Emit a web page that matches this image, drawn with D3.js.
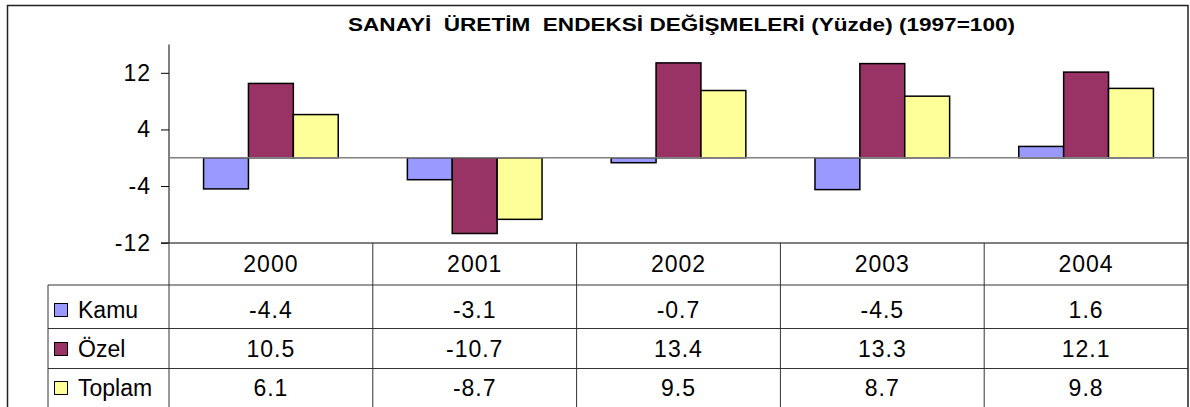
<!DOCTYPE html>
<html>
<head>
<meta charset="utf-8">
<script src="https://cdn.jsdelivr.net/npm/d3@7"></script>
<style>
  body { margin: 0; background: #fff; }
  text { font-family: "Liberation Sans", Arial, sans-serif; fill: #000; }
</style>
</head>
<body>
<div class="chart"></div>
<script>
var years = ["2000", "2001", "2002", "2003", "2004"];
var seriesNames = ["Kamu", "Özel", "Toplam"];
var kamu = [-4.4, -3.1, -0.7, -4.5, 1.6];
var ozel = [10.5, -10.7, 13.4, 13.3, 12.1];
var toplam = [6.1, -8.7, 9.5, 8.7, 9.8];
var yTicks = [-12, -4, 4, 12];
var colors = ["#9999ff", "#993366", "#ffff99"];
var title = "SANAYİ  ÜRETİM  ENDEKSİ DEĞİŞMELERİ (Yüzde) (1997=100)";

var values = [kamu, ozel, toplam];

var W = 1190, H = 407;
var plotL = 169, plotR = 1188, plotT = 44.5, plotB = 242.7;
var legendX = 48;
var rowLines = [243, 285, 328.5, 368.5];

var svg = d3.select(".chart")
  .append("svg")
  .attr("width", W)
  .attr("height", H);

// outer frame
svg.append("rect")
  .attr("x", 7.5).attr("y", 5.5)
  .attr("width", 1180.5).attr("height", 420)
  .attr("fill", "none")
  .attr("stroke", "#222")
  .attr("stroke-width", 1.5);

svg.append("text")
  .attr("x", 348)
  .attr("y", 31)
  .attr("font-size", "19px")
  .attr("font-weight", "bold")
  .attr("textLength", 667)
  .attr("lengthAdjust", "spacingAndGlyphs")
  .style("white-space", "pre")
  .text(title);

var y = d3.scaleLinear().domain([-12, 16]).range([plotB, plotT]);
var x0 = d3.scaleBand().domain(years).range([plotL, plotR]);
var x1 = d3.scaleBand().domain(seriesNames).range([0, x0.bandwidth()]).paddingOuter(0.77);

// y axis
var yAxis = d3.axisLeft(y).tickValues(yTicks).tickSize(8).tickPadding(10)
  .tickFormat(function(d) { return String(d); });
var ag = svg.append("g").attr("transform", "translate(" + plotL + ",0)").call(yAxis);
ag.select(".domain").attr("stroke", "#000").attr("d", "M0," + plotT + "V" + plotB);
ag.selectAll(".tick line").attr("stroke", "#000");
ag.selectAll(".tick text")
  .attr("font-size", "23px")
  .attr("letter-spacing", "1px")
  .attr("font-family", "Liberation Sans, Arial, sans-serif")
  .attr("fill", "#000");

// bars
seriesNames.forEach(function(s, si) {
  svg.append("g").selectAll("rect")
    .data(values[si])
    .enter()
    .append("rect")
    .attr("x", function(d, i) { return x0(years[i]) + x1(s); })
    .attr("width", x1.bandwidth())
    .attr("y", function(d) { return y(Math.max(0, d)); })
    .attr("height", function(d) { return Math.abs(y(d) - y(0)); })
    .attr("fill", colors[si])
    .attr("stroke", "#000")
    .attr("stroke-width", 1.5);
});

// zero line
svg.append("line")
  .attr("x1", plotL).attr("x2", plotR)
  .attr("y1", y(0)).attr("y2", y(0))
  .attr("stroke", "#808080")
  .attr("stroke-width", 1.5);

// data table
var tg = svg.append("g").attr("stroke", "#333").attr("stroke-width", 1);
tg.append("line").attr("x1", plotL - 8).attr("x2", plotR).attr("y1", rowLines[0]).attr("y2", rowLines[0]).attr("stroke", "#000");
rowLines.slice(1).forEach(function(ly) {
  tg.append("line").attr("x1", legendX).attr("x2", plotR).attr("y1", ly).attr("y2", ly);
});
years.forEach(function(yr) {
  tg.append("line").attr("x1", x0(yr)).attr("x2", x0(yr)).attr("y1", rowLines[0]).attr("y2", H);
});
tg.append("line").attr("x1", legendX).attr("x2", legendX).attr("y1", rowLines[1]).attr("y2", H);

svg.append("g").selectAll("text")
  .data(years)
  .enter()
  .append("text")
  .attr("x", function(d) { return x0(d) + x0.bandwidth() / 2; })
  .attr("y", 272)
  .attr("text-anchor", "middle")
  .attr("font-size", "23px")
  .attr("letter-spacing", "1px")
  .text(function(d) { return d; });

var rowBase = [318, 357, 396];
seriesNames.forEach(function(s, si) {
  svg.append("rect")
    .attr("x", 54.5).attr("y", rowBase[si] - 14.5)
    .attr("width", 13).attr("height", 13)
    .attr("fill", colors[si])
    .attr("stroke", "#000")
    .attr("stroke-width", 1);
  svg.append("text")
    .attr("x", 78).attr("y", rowBase[si])
    .attr("font-size", "23px")
    .text(s);
  svg.append("g").selectAll("text")
    .data(values[si])
    .enter()
    .append("text")
    .attr("x", function(d, i) { return x0(years[i]) + x0.bandwidth() / 2; })
    .attr("y", rowBase[si])
    .attr("text-anchor", "middle")
    .attr("font-size", "23px")
    .attr("letter-spacing", "1px")
    .text(function(d) { return d.toFixed(1); });
});
</script>
</body>
</html>
